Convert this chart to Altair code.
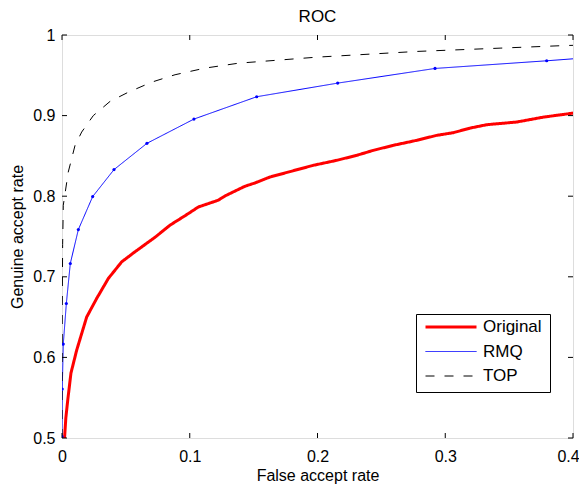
import altair as alt
import pandas as pd

# ---- data ----
orig_x = [0.0020, 0.0030, 0.0045, 0.0070, 0.0115, 0.0193, 0.0271, 0.0363, 0.0467, 0.0571,
          0.0728, 0.0845, 0.0989, 0.1067, 0.1223, 0.1276, 0.1432, 0.1510, 0.1628, 0.1967,
          0.2150, 0.2307, 0.2437, 0.2593, 0.2776, 0.2933, 0.3063, 0.3194, 0.3324, 0.3559,
          0.3768, 0.4002]
orig_y = [0.500, 0.525, 0.547, 0.5805, 0.609, 0.650, 0.673, 0.698, 0.7185, 0.731,
          0.749, 0.764, 0.7784, 0.7866, 0.795, 0.8003, 0.8123, 0.8164, 0.8238, 0.8383,
          0.8445, 0.8507, 0.8569, 0.8631, 0.8693, 0.8755, 0.8788, 0.8845, 0.8887, 0.8920,
          0.8981, 0.9031]

rmq_x = [0.0, 0.0002, 0.0010, 0.0034, 0.0065, 0.0128, 0.0240, 0.0407, 0.0665, 0.1033,
         0.1524, 0.2158, 0.2920, 0.3794, 0.4800]
rmq_y = [0.502, 0.5607, 0.6165, 0.6669, 0.7165, 0.7586, 0.7995, 0.8330, 0.8656, 0.8957,
         0.9234, 0.9403, 0.9585, 0.9680, 0.9800]

top_x = [0.0, 0.0002, 0.0005, 0.0010, 0.0049, 0.0102, 0.0154, 0.0245, 0.0376, 0.0519,
         0.0702, 0.0885, 0.1119, 0.1380, 0.1994, 0.2776, 0.3429, 0.3950, 0.4100]
top_y = [0.500, 0.660, 0.740, 0.7887, 0.830, 0.863, 0.8796, 0.900, 0.9176, 0.929,
         0.9415, 0.9507, 0.9589, 0.965, 0.9725, 0.9796, 0.9837, 0.9870, 0.9875]

series_names = ["Original", "RMQ", "TOP"]
series_colors = ["#ff0000", "#0000ff", "#000000"]
series_widths = [3, 1, 1]
series_dashes = [[1, 0], [1, 0], [9, 10]]

x_ticks = [0, 0.1, 0.2, 0.3, 0.4]
y_ticks = [0.5, 0.6, 0.7, 0.8, 0.9, 1.0]

W, H = 511, 403
FONT = "Liberation Sans"
FS = 16
TICK = 5

rows = []
for name, xs, ys in [("Original", orig_x, orig_y), ("RMQ", rmq_x, rmq_y), ("TOP", top_x, top_y)]:
    for i, (a, b) in enumerate(zip(xs, ys)):
        rows.append({"fpr": a, "gar": b, "series": name, "order": i})
df = pd.DataFrame(rows)
rmq_df = df[df["series"] == "RMQ"]

xscale = alt.Scale(domain=[0, 0.4], nice=False, zero=False)
yscale = alt.Scale(domain=[0.5, 1.0], nice=False, zero=False)

xaxis = alt.Axis(values=x_ticks, labelExpr="format(datum.value, '~g')", grid=False, ticks=False,
                 tickSize=0, domain=False, labelFont=FONT, labelFontSize=FS, labelColor="black",
                 labelPadding=10, title="False accept rate", titleFont=FONT, titleFontSize=FS,
                 titleFontWeight="normal", titleColor="black", titlePadding=3, labelFlush=False,
                 labelOffset={"condition": {"test": "datum.value > 0.35", "value": -5}, "value": 0})
yaxis = alt.Axis(values=y_ticks, labelExpr="format(datum.value, '~g')", grid=False, ticks=False,
                 tickSize=0, domain=False, labelFont=FONT, labelFontSize=FS, labelColor="black",
                 labelPadding=7, title="Genuine accept rate", titleFont=FONT, titleFontSize=FS,
                 titleFontWeight="normal", titleColor="black", titlePadding=7, labelFlush=False)

legend = alt.Legend(title=None, orient="none", legendX=354, legendY=279,
                    symbolType="stroke", symbolSize=2601, labelFont=FONT, labelFontSize=17,
                    labelColor="black", labelOffset=5, strokeColor="black", fillColor="white",
                    padding=8, clipHeight=10, rowPadding=7.5, cornerRadius=0)

lines = alt.Chart(df).mark_line(clip=True).encode(
    x=alt.X("fpr:Q", scale=xscale, axis=xaxis),
    y=alt.Y("gar:Q", scale=yscale, axis=yaxis),
    order="order:Q",
    color=alt.Color("series:N", scale=alt.Scale(domain=series_names, range=series_colors), legend=legend),
    strokeDash=alt.StrokeDash("series:N", scale=alt.Scale(domain=series_names, range=series_dashes), legend=legend),
    strokeWidth=alt.StrokeWidth("series:N", scale=alt.Scale(type="ordinal", domain=series_names, range=series_widths), legend=legend),
)

markers = alt.Chart(rmq_df).mark_circle(clip=True, color="#0000ff", size=10, opacity=1).encode(
    x="fpr:Q", y="gar:Q"
)

tdx = pd.DataFrame({"v": x_ticks})
tdy = pd.DataFrame({"v": y_ticks})
tick_bottom = alt.Chart(tdx).mark_rule(color="black", strokeWidth=1).encode(
    x="v:Q", y=alt.value(H), y2=alt.value(H - TICK))
tick_top = alt.Chart(tdx).mark_rule(color="black", strokeWidth=1).encode(
    x="v:Q", y=alt.value(0), y2=alt.value(TICK))
tick_left = alt.Chart(tdy).mark_rule(color="black", strokeWidth=1).encode(
    y="v:Q", x=alt.value(0), x2=alt.value(TICK))
tick_right = alt.Chart(tdy).mark_rule(color="black", strokeWidth=1).encode(
    y="v:Q", x=alt.value(W), x2=alt.value(W - TICK))

chart = alt.layer(lines, markers, tick_bottom, tick_top, tick_left, tick_right).properties(
    width=W, height=H,
    title=alt.TitleParams("ROC", font=FONT, fontSize=17, fontWeight="normal", color="black",
                          anchor="middle", frame="group", offset=1),
    autosize=alt.AutoSizeParams(type="none"),
    padding={"left": 54, "top": 27, "right": 6, "bottom": 48},
).configure_view(stroke="black", strokeWidth=1).configure(background="white")

chart.save("out.html", embed_options={"renderer": "svg", "actions": False})
